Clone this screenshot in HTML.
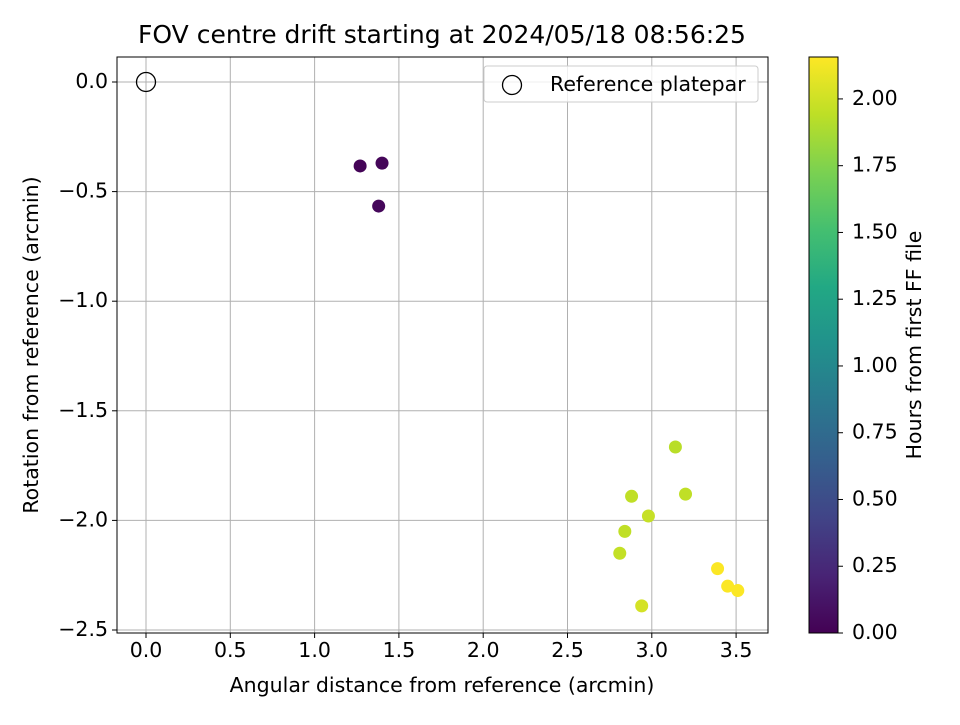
<!DOCTYPE html>
<html><head><meta charset="utf-8"><style>
body{margin:0;background:#fff;font-family:"Liberation Sans","DejaVu Sans",sans-serif}
</style></head><body>
<svg id="chart" width="960" height="720" xmlns="http://www.w3.org/2000/svg" font-family="DejaVu Sans, Liberation Sans, sans-serif">
<defs>
<linearGradient id="vir" x1="0" y1="1" x2="0" y2="0">
<stop offset="0" stop-color="#440154"/><stop offset="0.1" stop-color="#482475"/><stop offset="0.2" stop-color="#414487"/><stop offset="0.3" stop-color="#355f8d"/><stop offset="0.4" stop-color="#2a788e"/><stop offset="0.5" stop-color="#21918c"/><stop offset="0.6" stop-color="#22a884"/><stop offset="0.7" stop-color="#44bf70"/><stop offset="0.8" stop-color="#7ad151"/><stop offset="0.9" stop-color="#bddf26"/><stop offset="1" stop-color="#fde725"/>
</linearGradient>
</defs>
<g id="grid"></g><g id="marks"></g><g id="axes"></g>
</svg>
<script>
const xs=[1.27,1.40,1.38,3.14,2.88,3.20,2.98,2.84,2.81,2.94,3.39,3.45,3.51];
const ys=[-0.383,-0.37,-0.566,-1.665,-1.89,-1.88,-1.98,-2.05,-2.15,-2.39,-2.22,-2.30,-2.32];
const hours=[0.02,0.03,0.04,1.93,1.95,1.95,1.97,1.95,1.96,2.02,2.15,2.15,2.15];
const xTicks=[0,0.5,1,1.5,2,2.5,3,3.5];
const yTicks=[0,-0.5,-1,-1.5,-2,-2.5];
const cTicks=[0,0.25,0.5,0.75,1,1.25,1.5,1.75,2];
const NS="http://www.w3.org/2000/svg";
const L=117,R=768,T=57,B=633;
const X=v=>146+v*168.6, Y=v=>82-v*219.2;
const cmax=2.157, CY=v=>633-v*(576/cmax);
const stops=[[0,[68,1,84]],[0.1,[72,36,117]],[0.2,[65,68,135]],[0.3,[53,95,141]],[0.4,[42,120,142]],[0.5,[33,145,140]],[0.6,[34,168,132]],[0.7,[68,191,112]],[0.8,[122,209,81]],[0.9,[189,223,38]],[1,[253,231,37]]];
function vir(t){t=Math.max(0,Math.min(1,t));for(let i=1;i<stops.length;i++){if(t<=stops[i][0]){const a=stops[i-1],b=stops[i],f=(t-a[0])/(b[0]-a[0]);return 'rgb('+a[1].map((c,k)=>Math.round(c+(b[1][k]-c)*f)).join(',')+')';}}return 'rgb(253,231,37)';}
function el(tag,attrs,parent,txt){const e=document.createElementNS(NS,tag);for(const k in attrs)e.setAttribute(k,attrs[k]);if(txt!==undefined)e.textContent=txt;document.getElementById(parent).appendChild(e);return e;}
const fmt=v=>(v<0?'\u2212':'')+Math.abs(v).toFixed(1);
const FS=20.5;
xTicks.forEach(v=>{const g=el('line',{x1:X(v),x2:X(v),y1:T,y2:B,stroke:'#b0b0b0','stroke-width':1},'grid');
const t=el('line',{x1:X(v),x2:X(v),y1:B,y2:B+5,stroke:'#000'},'axes');
const l=el('text',{x:X(v),y:B+24,'text-anchor':'middle','font-size':FS},'axes',fmt(v));});
yTicks.forEach(v=>{const g=el('line',{x1:L,x2:R,y1:Y(v),y2:Y(v),stroke:'#b0b0b0','stroke-width':1},'grid');
const t=el('line',{x1:L-5,x2:L,y1:Y(v),y2:Y(v),stroke:'#000'},'axes');
const l=el('text',{x:L-9,y:Y(v)+6,'text-anchor':'end','font-size':FS},'axes',fmt(v));});
xs.forEach((x,i)=>{const c=el('circle',{cx:X(x),cy:Y(ys[i]),r:6.5,fill:vir(hours[i]/cmax)},'marks');});
let rp=el('circle',{cx:X(0),cy:Y(0),r:9.5,fill:'none',stroke:'#000','stroke-width':1.3},'marks');
let fr=el('rect',{x:L,y:T,width:R-L,height:B-T,fill:'none',stroke:'#000','stroke-width':1},'axes');
let tt=el('text',{x:442,y:43,'text-anchor':'middle','font-size':25},'axes','FOV centre drift starting at 2024/05/18 08:56:25');
let xt=el('text',{x:442,y:692,'text-anchor':'middle','font-size':FS},'axes','Angular distance from reference (arcmin)');
let yt=el('text',{x:38,y:345,'text-anchor':'middle','font-size':FS,transform:'rotate(-90 38 345)'},'axes','Rotation from reference (arcmin)');
let lg=el('rect',{x:484,y:66,width:274,height:36,rx:3,fill:'#fff',stroke:'#ccc','fill-opacity':0.8},'axes');
let lc=el('circle',{cx:512,cy:85,r:9.5,fill:'none',stroke:'#000','stroke-width':1.3},'axes');
let lt=el('text',{x:550,y:91,'font-size':FS},'axes','Reference platepar');
let cb=el('rect',{x:809,y:57,width:29,height:576,fill:'url(#vir)',stroke:'#000','stroke-width':1},'axes');
cTicks.forEach(v=>{const t=el('line',{x1:838,x2:843,y1:CY(v),y2:CY(v),stroke:'#000'},'axes');
const l=el('text',{x:852,y:CY(v)+6,'font-size':FS},'axes',v.toFixed(2));});
let ct=el('text',{x:921,y:345,'text-anchor':'middle','font-size':FS,transform:'rotate(-90 921 345)'},'axes','Hours from first FF file');
</script>
</body></html>
